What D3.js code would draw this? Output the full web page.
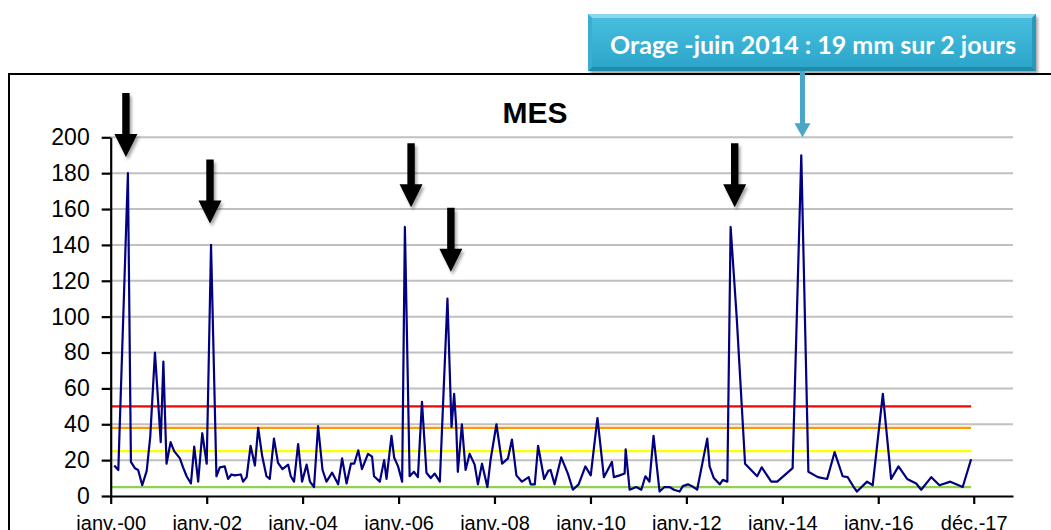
<!DOCTYPE html>
<html>
<head>
<meta charset="utf-8">
<script src="https://cdn.jsdelivr.net/npm/d3@7"></script>
<style>
  body { margin: 0; background: #fff; }
  svg { display: block; }
</style>
</head>
<body>
<div id="chart"></div>
<script>
// MES series (mg/l), dates
const dates = [
  "2000-01-28","2000-02-28","2000-05-11","2000-06-03","2000-07-03","2000-07-28","2000-08-28","2000-10-01","2000-10-28","2000-12-03",
  "2001-01-16","2001-02-05","2001-03-01","2001-04-01","2001-04-28","2001-06-11","2001-07-05","2001-08-01","2001-09-03","2001-09-28",
  "2001-10-28","2001-11-28","2002-01-01","2002-02-03","2002-03-16","2002-04-11","2002-05-18","2002-06-13","2002-07-08","2002-08-03",
  "2002-09-18","2002-10-05","2002-11-01","2002-12-01","2003-01-03","2003-01-28","2003-02-28","2003-04-01","2003-04-26","2003-05-28",
  "2003-06-28","2003-08-01","2003-09-13","2003-10-03","2003-10-28","2003-11-28","2003-12-28","2004-02-01","2004-02-26","2004-03-28",
  "2004-04-28","2004-06-01","2004-07-01","2004-08-13","2004-09-28","2004-10-28","2004-12-01","2005-01-03","2005-01-28","2005-02-28",
  "2005-03-28","2005-05-13","2005-06-13","2005-06-28","2005-08-11","2005-09-13","2005-10-01","2005-11-08","2005-11-28","2005-12-28",
  "2006-01-28","2006-02-18","2006-03-26","2006-04-28","2006-05-28","2006-06-28","2006-08-01","2006-09-03","2006-10-03","2006-11-11",
  "2007-01-08","2007-02-08","2007-02-28","2007-03-16","2007-03-28","2007-04-28","2007-05-26","2007-06-26","2007-08-03","2007-08-28",
  "2007-09-28","2007-11-08","2007-12-03","2008-01-16","2008-02-28","2008-04-13","2008-05-13","2008-06-16","2008-07-28","2008-09-18",
  "2008-10-03","2008-11-03","2008-11-28","2009-01-13","2009-02-13","2009-03-03","2009-04-03","2009-05-23","2009-07-13","2009-08-20",
  "2009-10-03","2009-11-23","2010-01-03","2010-02-23","2010-04-13","2010-06-13","2010-06-28","2010-08-11","2010-09-18","2010-09-26",
  "2010-10-26","2010-12-16","2011-01-23","2011-02-23","2011-03-26","2011-04-26","2011-06-11","2011-07-18","2011-08-26","2011-09-28",
  "2011-11-11","2011-12-05","2012-01-13","2012-02-13","2012-03-23","2012-06-08","2012-06-26","2012-07-28","2012-09-11","2012-10-05",
  "2012-11-08","2012-12-03","2013-01-18","2013-03-23","2013-05-08","2013-06-23","2013-07-28","2013-10-08","2013-11-23","2014-03-20",
  "2014-05-25","2014-07-18","2014-09-28","2014-12-08","2015-02-03","2015-04-05","2015-05-13","2015-06-28","2015-07-23","2015-10-08",
  "2015-11-20","2016-02-05","2016-04-08","2016-06-03","2016-08-08","2016-10-16","2016-11-23","2017-02-08","2017-04-11","2017-07-03",
  "2017-10-05","2017-12-08"
];
const mes = [
  17,14.5,180,19,15.5,14.5,6,14,33,80,
  30,75,18,30,25,21,16,11,7,27.5,
  8,35,18,140,11,16,16.5,9.5,12,11.5,
  12,8,10.5,28,17,38,22,11,9.5,32,
  18.5,15,17.5,11,8,29,8,17.5,8,5,
  39,14.5,8,13,6.5,21,7,18,18,25.5,
  15,23.5,22,11,8,20,9.5,33.5,21.5,16.5,
  8,150,11,13.5,10.5,52.5,13,10,12.5,8,
  110,38.5,57,38.5,13.5,40,14.5,23.5,17.5,6.5,
  18,5,20.5,40,18,21,31.5,11.5,8,10.5,
  6.5,6.5,28,9.5,14,14.5,6.5,21.5,12.5,3.5,
  6.5,16.5,11.5,43.5,10.5,19,10.5,11.5,12.5,26,
  3.5,5,3.5,11,8,33.5,2.5,5,5,3.5,
  2.5,5.5,6.5,5.5,3.5,32,16.5,10,6.5,9,
  8,150,100,18,14.5,11,16,8,8,15.5,
  190,13.5,10.5,9.5,24.5,11,10.5,5,2.5,8,
  6,57,9.5,16.5,9.5,7,3.5,10.5,6,8,
  5,20.5
];

// quality thresholds
const thresholds = [50, 38, 25, 5];
const thresholdColors = ["#ff0000", "#ff9900", "#ffff00", "#92d050"];

const yTicks = [0, 20, 40, 60, 80, 100, 120, 140, 160, 180, 200];
const xTickDates = ["2000-01-01","2002-01-01","2004-01-01","2006-01-01","2008-01-01","2010-01-01","2012-01-01","2014-01-01","2016-01-01","2017-12-28"];
const xTickLabels = ["janv.-00","janv.-02","janv.-04","janv.-06","janv.-08","janv.-10","janv.-12","janv.-14","janv.-16","déc.-17"];

// black arrows pointing at the peaks (date, value of arrow tip)
const arrowDates = ["2000-04-26","2002-01-26","2006-04-06","2007-02-03","2013-01-03"];
const arrowTips = [189, 152, 161, 125, 161];

const calloutText = "Orage -juin 2014 : 19 mm sur 2 jours";
const calloutDate = "2014-06-03";

const W = 1051, H = 530;
const parse = d3.timeParse("%Y-%m-%d");

const svg = d3.select("#chart").append("svg")
  .attr("width", W).attr("height", H);

const defs = svg.append("defs");
const shadow = defs.append("filter").attr("id", "shadow")
  .attr("x", "-50%").attr("y", "-50%").attr("width", "200%").attr("height", "200%");
shadow.append("feDropShadow").attr("dx", 2).attr("dy", 3)
  .attr("stdDeviation", 1.8).attr("flood-color", "#000").attr("flood-opacity", 0.35);

const boxGrad = defs.append("linearGradient").attr("id", "boxGrad")
  .attr("x1", 0).attr("y1", 0).attr("x2", 0).attr("y2", 1);
boxGrad.append("stop").attr("offset", "0%").attr("stop-color", "#48c0e0");
boxGrad.append("stop").attr("offset", "100%").attr("stop-color", "#2aa4c9");

// outer chart frame
svg.append("rect")
  .attr("x", 9).attr("y", 74).attr("width", 1100).attr("height", 500)
  .attr("fill", "none").attr("stroke", "#000").attr("stroke-width", 2);

const x = d3.scaleTime()
  .domain([parse("2000-01-01"), parse("2018-10-23")])
  .range([110.7, 1013]);
const y = d3.scaleLinear().domain([0, 200]).range([496, 137.3]);

// gridlines
svg.append("g").selectAll("line")
  .data(yTicks.filter(d => d > 0))
  .enter().append("line")
  .attr("x1", x.range()[0]).attr("x2", x.range()[1])
  .attr("y1", d => y(d)).attr("y2", d => y(d))
  .attr("stroke", "#c0c0c0").attr("stroke-width", 2);

// threshold lines
const lastDate = parse(dates[dates.length - 1]);
svg.append("g").selectAll("line")
  .data(thresholds)
  .enter().append("line")
  .attr("x1", x(parse("2000-01-01"))).attr("x2", x(lastDate))
  .attr("y1", d => y(d)).attr("y2", d => y(d))
  .attr("stroke", (d, i) => thresholdColors[i]).attr("stroke-width", 2.2);

// series
const data = dates.map((d, i) => ({ date: parse(d), v: mes[i] }));
svg.append("path")
  .datum(data)
  .attr("fill", "none")
  .attr("stroke", "#000080")
  .attr("stroke-width", 2.2)
  .attr("stroke-linejoin", "round")
  .attr("d", d3.line().x(d => x(d.date)).y(d => y(d.v)));

// axes
const yAxis = svg.append("g")
  .attr("transform", "translate(" + x.range()[0] + ",0)")
  .call(d3.axisLeft(y).tickValues(yTicks).tickSize(9).tickSizeOuter(0).tickPadding(12));
const xAxis = svg.append("g")
  .attr("transform", "translate(0," + y(0) + ")")
  .call(d3.axisBottom(x).tickValues(xTickDates.map(parse))
    .tickFormat((d, i) => xTickLabels[i]).tickSize(8).tickSizeOuter(0).tickPadding(12));

[yAxis, xAxis].forEach(a => {
  a.select(".domain").attr("stroke", "#000").attr("stroke-width", 2.2);
  a.selectAll(".tick line").attr("stroke", "#000").attr("stroke-width", 2.2);
  a.selectAll("text").attr("fill", "#000")
    .style("font-family", "'Liberation Sans', Arial, sans-serif");
});
yAxis.selectAll("text").style("font-size", "23px");
xAxis.selectAll("text").style("font-size", "20px");

// title
svg.append("text")
  .attr("x", 535).attr("y", 123)
  .attr("text-anchor", "middle")
  .style("font-family", "'Liberation Sans', Arial, sans-serif")
  .style("font-weight", "bold").style("font-size", "30px")
  .text("MES");

// black arrows
const arrows = svg.append("g").attr("filter", "url(#shadow)");
arrowDates.forEach((d, i) => {
  const ax = x(parse(d)), tip = y(arrowTips[i]);
  const len = 64, head = 23, hw = 11.5, sw = 3.7;
  const top = tip - len;
  arrows.append("path")
    .attr("d", "M" + (ax - sw) + "," + top + "L" + (ax + sw) + "," + top +
      "L" + (ax + sw) + "," + (tip - head) + "L" + (ax + hw) + "," + (tip - head) +
      "L" + ax + "," + tip + "L" + (ax - hw) + "," + (tip - head) +
      "L" + (ax - sw) + "," + (tip - head) + "Z")
    .attr("fill", "#000");
});

// callout box
const bx = 588, by = 14, bw = 448, bh = 57, bv = 4;
const call = svg.append("g");
call.append("rect").attr("x", bx).attr("y", by).attr("width", bw).attr("height", bh)
  .attr("fill", "url(#boxGrad)").attr("filter", "url(#shadow)");
call.append("path")
  .attr("d", `M${bx},${by}L${bx + bw},${by}L${bx + bw - bv},${by + bv}L${bx + bv},${by + bv}Z`)
  .attr("fill", "#8ad8ee");
call.append("path")
  .attr("d", `M${bx},${by + bh}L${bx + bw},${by + bh}L${bx + bw - bv},${by + bh - bv}L${bx + bv},${by + bh - bv}Z`)
  .attr("fill", "#2189aa");
call.append("path")
  .attr("d", `M${bx},${by}L${bx + bv},${by + bv}L${bx + bv},${by + bh - bv}L${bx},${by + bh}Z`)
  .attr("fill", "#3aaed0");
call.append("path")
  .attr("d", `M${bx + bw},${by}L${bx + bw - bv},${by + bv}L${bx + bw - bv},${by + bh - bv}L${bx + bw},${by + bh}Z`)
  .attr("fill", "#2a98bb");
call.append("text")
  .attr("x", bx + bw / 2 + 1).attr("y", 54)
  .attr("text-anchor", "middle")
  .attr("fill", "#fff")
  .style("font-family", "Lato, 'Open Sans', sans-serif")
  .style("font-weight", "bold").style("font-size", "25px")
  .text(calloutText);

// callout arrow down to the 2014 peak
const cx = x(parse(calloutDate)), ctip = y(200);
call.append("path")
  .attr("d", `M${cx - 2.5},${by + bh}L${cx + 2.5},${by + bh}L${cx + 2.5},${ctip - 14}L${cx + 8},${ctip - 14}L${cx},${ctip}L${cx - 8},${ctip - 14}L${cx - 2.5},${ctip - 14}Z`)
  .attr("fill", "#4aa6c6");
</script>
</body>
</html>
